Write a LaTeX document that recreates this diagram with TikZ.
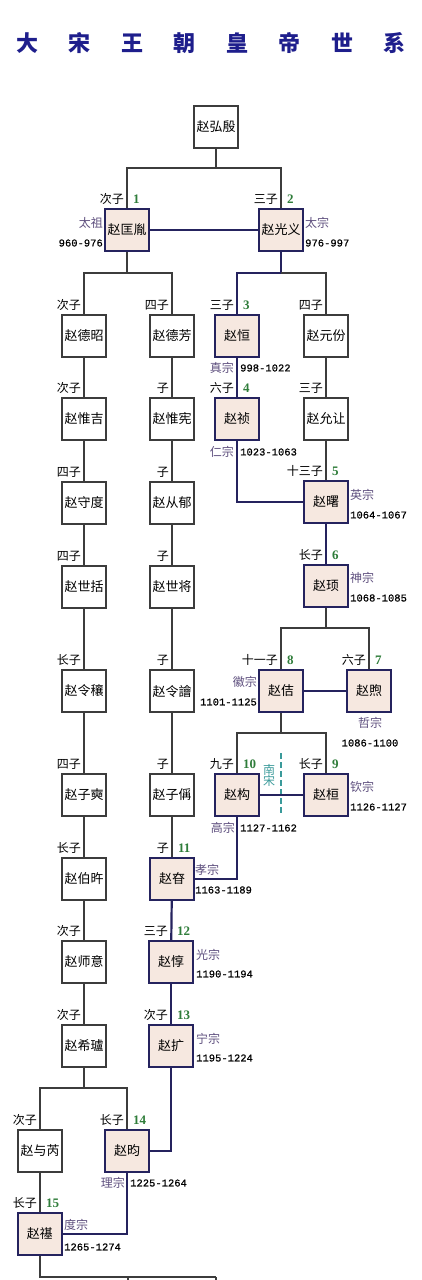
\documentclass[tikz,border=0pt]{standalone}
\usepackage{fontspec}
\setmainfont{Liberation Serif}
\newfontfamily\cjk{Noto Sans CJK SC}
\newfontfamily\monof[FakeBold=0.6]{Liberation Mono}
\newfontfamily\numf{Liberation Serif}
\definecolor{navyline}{HTML}{25235E}
\definecolor{grayline}{HTML}{3C3C3C}
\definecolor{empfill}{HTML}{F6E8E0}
\definecolor{numgreen}{HTML}{2F7D3A}
\definecolor{templec}{HTML}{5E4F7E}
\definecolor{titlec}{HTML}{1E1E8C}
\definecolor{tealc}{HTML}{3A9A9A}
\tikzset{
  box/.style={draw=grayline, line width=1.2pt, fill=white, minimum width=44pt, minimum height=42pt, inner sep=0pt, font=\cjk\fontsize{13}{13}\selectfont},
  emp/.style={box, draw=navyline, line width=2pt, fill=empfill},
  kin/.style={font=\cjk\fontsize{12}{12}\selectfont, inner sep=0pt, anchor=east, xshift=-3pt, yshift=9pt},
  num/.style={font=\numf\bfseries\fontsize{13}{13}\selectfont, text=numgreen, inner sep=0pt, anchor=west, xshift=6pt, yshift=9pt},
  temple/.style={font=\cjk\fontsize{12}{12}\selectfont, text=templec, inner sep=0pt},
  years/.style={font=\monof\fontsize{10.5}{10.5}\selectfont, inner sep=0pt},
  thinl/.style={draw=grayline, line width=1.2pt},
  thickl/.style={draw=navyline, line width=2.2pt},
  titlestyle/.style={font=\cjk\bfseries\fontsize{22}{22}\selectfont, text=titlec, inner sep=0pt},
}
\begin{document}
\begin{tikzpicture}[x=1pt, y=-1pt]
\useasboundingbox[fill=white] (0,0) rectangle (421,1280);
% title
\node[titlestyle] (title) at (211,43) {大\hspace{30.5pt}宋\hspace{30.5pt}王\hspace{30.5pt}朝\hspace{30.5pt}皇\hspace{30.5pt}帝\hspace{30.5pt}世\hspace{30.5pt}系};

% boxes
\node[box] (hongyin) at (216,127) {赵弘殷};
\node[emp, label={[kin]north:次子}, label={[num]north:1}] (kuangyin) at (127,230) {赵匡胤};
\node[emp, label={[kin]north:三子}, label={[num]north:2}] (guangyi) at (281,230) {赵光义};

\node[box, label={[kin]north:次子}] (dezhao) at (84,336) {赵德昭};
\node[box, label={[kin]north:四子}] (defang) at (172,336) {赵德芳};
\node[emp, label={[kin]north:三子}, label={[num]north:3}] (heng) at (237,336) {赵恒};
\node[box, label={[kin]north:四子}] (yuanfen) at (326,336) {赵元份};

\node[box, label={[kin]north:次子}] (weiji) at (84,419) {赵惟吉};
\node[box, label={[kin]north:子}] (weixian) at (172,419) {赵惟宪};
\node[emp, label={[kin]north:六子}, label={[num]north:4}] (zhen) at (237,419) {赵祯};
\node[box, label={[kin]north:三子}] (yunrang) at (326,419) {赵允让};

\node[box, label={[kin]north:四子}] (shoudu) at (84,503) {赵守度};
\node[box, label={[kin]north:子}] (congyu) at (172,503) {赵从郁};
\node[emp, label={[kin]north:十三子}, label={[num]north:5}] (shu) at (326,502) {赵曙};

\node[box, label={[kin]north:四子}] (shikuo) at (84,587) {赵世括};
\node[box, label={[kin]north:子}] (shijiang) at (172,587) {赵世将};
\node[emp, label={[kin]north:长子}, label={[num]north:6}] (xu) at (326,586) {赵顼};

\node[box, label={[kin]north:长子}] (lingrang) at (84,691) {赵令穰};
\node[box, label={[kin]north:子}] (lingkuai) at (172,691) {赵令譮};
\node[emp, label={[kin]north:十一子}, label={[num]north:8}] (ji) at (281,691) {赵佶};
\node[emp, label={[kin]north:六子}, label={[num]north:7}] (xuzhe) at (369,691) {赵煦};

\node[box, label={[kin]north:四子}] (zisong) at (84,795) {赵子奭};
\node[box, label={[kin]north:子}] (zicheng) at (172,795) {赵子偁};
\node[emp, label={[kin]north:九子}, label={[num]north:10}] (gou) at (237,795) {赵构};
\node[emp, label={[kin]north:长子}, label={[num]north:9}] (huan) at (326,795) {赵桓};

\node[box, label={[kin]north:长子}] (bohuan) at (84,879) {赵伯旿};
\node[emp, label={[kin]north:子}, label={[num]north:11}] (shen) at (172,879) {赵昚};

\node[box, label={[kin]north:次子}] (shiyi) at (84,962) {赵师意};
\node[emp, label={[kin]north:三子}, label={[num]north:12}] (dun) at (171,962) {赵惇};

\node[box, label={[kin]north:次子}] (xilu) at (84,1046) {赵希瓐};
\node[emp, label={[kin]north:次子}, label={[num]north:13}] (kuo) at (171,1046) {赵扩};

\node[box, label={[kin]north:次子}] (yurui) at (40,1151) {赵与芮};
\node[emp, label={[kin]north:长子}, label={[num]north:14}] (yun) at (127,1151) {赵昀};
\node[emp, label={[kin]north:长子}, label={[num]north:15}] (qi) at (40,1234) {赵禥};

% temple names and years
\node[temple, anchor=east] (t1) at (103,223) {太祖};
\node[years, anchor=east] (y1) at (103,243) {960-976};
\node[temple, anchor=west] (t2) at (305,223) {太宗};
\node[years, anchor=west] (y2) at (305,243) {976-997};
\node[temple, anchor=east] (t3) at (234,368) {真宗};
\node[years, anchor=west] (y3) at (240,368) {998-1022};
\node[temple, anchor=east] (t4) at (234,452) {仁宗};
\node[years, anchor=west] (y4) at (240,452) {1023-1063};
\node[temple, anchor=west] (t5) at (350,495) {英宗};
\node[years, anchor=west] (y5) at (350,515) {1064-1067};
\node[temple, anchor=west] (t6) at (350,578) {神宗};
\node[years, anchor=west] (y6) at (350,598) {1068-1085};
\node[temple] (t7) at (370,723) {哲宗};
\node[years] (y7) at (370,743) {1086-1100};
\node[temple, anchor=east] (t8) at (257,682) {徽宗};
\node[years, anchor=east] (y8) at (257,702) {1101-1125};
\node[temple, anchor=west] (t9) at (350,787) {钦宗};
\node[years, anchor=west] (y9) at (350,807) {1126-1127};
\node[temple, anchor=east] (t10) at (235,828) {高宗};
\node[years, anchor=west] (y10) at (240,828) {1127-1162};
\node[temple, anchor=west] (t11) at (195,870) {孝宗};
\node[years, anchor=west] (y11) at (195,890) {1163-1189};
\node[temple, anchor=west] (t12) at (196,955) {光宗};
\node[years, anchor=west] (y12) at (196,974) {1190-1194};
\node[temple, anchor=west] (t13) at (196,1039) {宁宗};
\node[years, anchor=west] (y13) at (196,1058) {1195-1224};
\node[temple, anchor=east] (t14) at (125,1183) {理宗};
\node[years, anchor=west] (y14) at (130,1183) {1225-1264};
\node[temple, anchor=west] (t15) at (64,1225) {度宗};
\node[years, anchor=west] (y15) at (64,1247) {1265-1274};

% Southern Song divider
\coordinate (ds1) at (281,753);
\coordinate (ds2) at (281,814);
\draw[tealc, line width=1.5pt, dash pattern=on 6pt off 3pt] (ds1) -- (ds2);
\node[font=\cjk\fontsize{12}{12}\selectfont, text=tealc, inner sep=0pt, align=center] (nansong) at (269,775) {南\\[-1pt]宋};

% junctions
\coordinate (j0) at (216,168);
\coordinate (j1) at (127,273);
\coordinate (j2) at (281,273);
\coordinate (j3) at (326,628);
\coordinate (j4) at (281,733);
\coordinate (j5) at (84,1088);
\coordinate (b0) at (40,1277);
\coordinate (b1) at (128,1277);
\coordinate (b2) at (216,1277);
\coordinate (b1e) at (128,1285);
\coordinate (b2e) at (216,1285);

% connectors
\draw[thinl] (hongyin) -- (j0);
\draw[thinl] (j0) -| (kuangyin);
\draw[thinl] (j0) -| (guangyi);
\draw[thickl] (kuangyin) -- (guangyi);

\draw[thinl] (kuangyin) -- (j1);
\draw[thinl] (j1) -| (dezhao);
\draw[thinl] (j1) -| (defang);
\draw[thickl] (guangyi) -- (j2);
\draw[thickl] (j2) -| (heng);
\draw[thinl] (j2) -| (yuanfen);

\draw[thinl] (dezhao) -- (weiji);
\draw[thinl] (weiji) -- (shoudu);
\draw[thinl] (shoudu) -- (shikuo);
\draw[thinl] (shikuo) -- (lingrang);
\draw[thinl] (lingrang) -- (zisong);
\draw[thinl] (zisong) -- (bohuan);
\draw[thinl] (bohuan) -- (shiyi);
\draw[thinl] (shiyi) -- (xilu);

\draw[thinl] (defang) -- (weixian);
\draw[thinl] (weixian) -- (congyu);
\draw[thinl] (congyu) -- (shijiang);
\draw[thinl] (shijiang) -- (lingkuai);
\draw[thinl] (lingkuai) -- (zicheng);
\draw[thinl] (zicheng) -- (shen);

\draw[thickl] (heng) -- (zhen);
\draw[thickl] (zhen) |- (shu);
\draw[thinl] (yuanfen) -- (yunrang);
\draw[thinl] (yunrang) -- (shu);
\draw[thickl] (shu) -- (xu);

\draw[thinl] (xu) -- (j3);
\draw[thinl] (j3) -| (ji);
\draw[thinl] (j3) -| (xuzhe);
\draw[thickl] (ji) -- (xuzhe);

\draw[thinl] (ji) -- (j4);
\draw[thinl] (j4) -| (gou);
\draw[thinl] (j4) -| (huan);
\draw[thickl] (gou) -- (huan);

\draw[thickl] (gou) |- (shen);
\draw[thickl] (shen) -- (dun);
\draw[thickl] (dun) -- (kuo);
\draw[thickl] (kuo) |- (yun);

\draw[thinl] (xilu) -- (j5);
\draw[thinl] (j5) -| (yurui);
\draw[thinl] (j5) -| (yun);
\draw[thinl] (yurui) -- (qi);
\draw[navyline, line width=1.5pt] (yun) |- (qi);

\draw[thinl] (qi) -- (b0) -- (b2);
\draw[thinl] (b1) -- (b1e);
\draw[thinl] (b2) -- (b2e);
\end{tikzpicture}
\end{document}
